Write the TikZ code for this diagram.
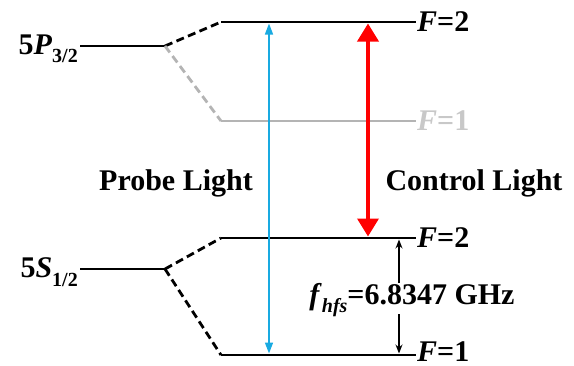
\documentclass[tikz,border=0pt]{standalone}
\usepackage{fontspec}
\setmainfont{Liberation Serif}
\usetikzlibrary{arrows.meta}
\definecolor{lgray}{RGB}{180,180,180}
\definecolor{lblgray}{RGB}{200,200,200}
\definecolor{probeblue}{RGB}{25,170,225}
\newcommand{\subtxt}[1]{\raisebox{-0.28em}{\fontsize{20}{20}\selectfont #1}}
\begin{document}
\begin{tikzpicture}[x=1pt,y=-1pt,
  lvl/.style={line width=2.8pt},
  dlvl/.style={line width=2.8pt,dash pattern=on 8pt off 4.5pt},
  lbl/.style={font=\fontsize{30}{30}\selectfont\bfseries, inner sep=1pt},
  hfsarrow/.style={line width=1.3pt,-{Stealth[length=9pt,width=7pt]}}]
\useasboundingbox (0,0) rectangle (574,365);
% 5P3/2
\coordinate (P0) at (80,46);
\coordinate (P1) at (165,46);
\coordinate (P2a) at (221,22);
\coordinate (P2b) at (416,22);
\coordinate (P1a) at (221,121);
\coordinate (P1b) at (416,121);
\node[lbl, anchor=east] (lP) at (79,49) {5\textit{P}\subtxt{3/2}};
\draw[lvl] (P0) -- (P1);
\draw[dlvl] (P1) -- (P2a);
\draw[lvl] (P2a) -- (P2b);
\draw[dlvl, lgray] (P1) -- (P1a);
\draw[lvl, lgray] (P1a) -- (P1b);
\node[lbl, anchor=west] (lP2) at (P2b) {\textit{F}=2};
\node[lbl, anchor=west, lblgray] (lP1) at (P1b) {\textit{F}=1};
% 5S1/2
\coordinate (S0) at (80,269);
\coordinate (S1) at (165,269);
\coordinate (S2a) at (221,238);
\coordinate (S2b) at (416,238);
\coordinate (S1a) at (221,355);
\coordinate (S1b) at (416,355);
\node[lbl, anchor=east] (lS) at (79,272) {5\textit{S}\subtxt{1/2}};
\draw[lvl] (S0) -- (S1);
\draw[dlvl] (S1) -- (S2a);
\draw[lvl] (S2a) -- (S2b);
\draw[dlvl] (S1) -- (S1a);
\draw[lvl] (S1a) -- (S1b);
\node[lbl, anchor=west] (lS2) at (S2b) {\textit{F}=2};
\node[lbl, anchor=west] (lS1) at ([yshift=3pt]S1b) {\textit{F}=1};
% probe light
\coordinate (B1) at (269,23.5);
\coordinate (B2) at (269,353.5);
\draw[probeblue, line width=1.6pt, {Triangle[length=11pt,width=8pt]}-{Triangle[length=11pt,width=8pt]}] (B1) -- (B2);
\node[lbl] (probe) at (176,183) {Probe Light};
% control light
\coordinate (R1) at (368,23.5);
\coordinate (R2) at (368,236.5);
\draw[red, line width=3.6pt, {Triangle[length=18pt,width=21pt]}-{Triangle[length=18pt,width=21pt]}] (R1) -- (R2);
\node[lbl] (control) at (474,183) {Control Light};
% hfs
\node[lbl] (hfs) at (412,300) {\textit{f}\subtxt{\textit{hfs}}=6.8347 GHz};
\coordinate (H1) at (399,283);
\coordinate (H2) at (399,239.5);
\coordinate (H3) at (399,314);
\coordinate (H4) at (399,353.5);
\draw[hfsarrow] (H1) -- (H2);
\draw[hfsarrow] (H3) -- (H4);
\end{tikzpicture}
\end{document}
